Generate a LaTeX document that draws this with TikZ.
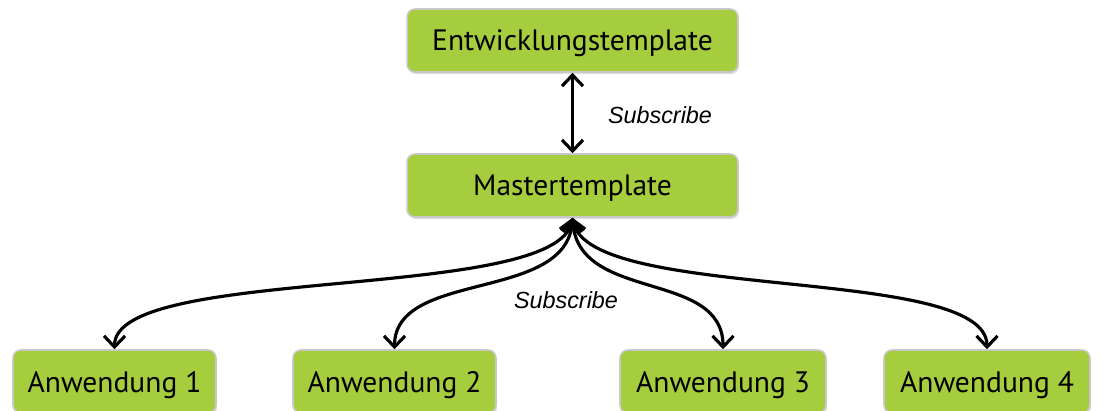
\documentclass[tikz,border=0pt]{standalone}
\usepackage{fontspec}
\setmainfont{PT Sans}
\newfontfamily\labelfont{Liberation Sans}
\usetikzlibrary{arrows.meta,shadows}
\definecolor{boxgreen}{RGB}{165,205,62}
\definecolor{boxedge}{RGB}{200,200,200}

\begin{document}
\begin{tikzpicture}[x=0.02cm, y=-0.02cm,
  tmpl/.style={draw=boxedge, line width=0.9pt, fill=boxgreen,
       rounded corners=0.16cm, inner sep=0cm, text depth=0pt,
       minimum height=1.26cm, font=\fontsize{16.8}{19}\selectfont,
       drop shadow={shadow xshift=0.6pt, shadow yshift=-1.2pt, opacity=0.25}},
  link/.style={line width=1.8pt,
       {Straight Barb[length=2.2mm,width=4.2mm,line width=1.8pt]}-{Straight Barb[length=2.2mm,width=4.2mm,line width=1.8pt]}},
  sublabel/.style={font=\labelfont\itshape\fontsize{13.3}{15}\selectfont}]

\clip (0,0) rectangle (1114,410);

% templates
\draw (572.5, 40.5) node[tmpl, minimum width=6.62cm] (entw) {Entwicklungstemplate};
\draw (572.5,185.5) node[tmpl, minimum width=6.62cm] (master) {Mastertemplate};

% applications
\draw (114.5,381.5) node[tmpl, minimum width=4.06cm] (app1) {Anwendung 1};
\draw (394.5,381.5) node[tmpl, minimum width=4.06cm] (app2) {Anwendung 2};
\draw (723.0,381.5) node[tmpl, minimum width=4.12cm] (app3) {Anwendung 3};
\draw (987.0,381.5) node[tmpl, minimum width=4.12cm] (app4) {Anwendung 4};

% subscribe links
\draw[link] (entw.south) -- (master.north);
\draw[link] (master.south) .. controls +(-15,85) and +(0,-85) .. (app1.north);
\draw[link] (master.south) .. controls +(-5,85) and +(0,-80) .. (app2.north);
\draw[link] (master.south) .. controls +(5,85) and +(0,-80) .. (app3.north);
\draw[link] (master.south) .. controls +(15,85) and +(0,-85) .. (app4.north);

\draw (660,115) node[sublabel] (sub1) {Subscribe};
\draw (566,300) node[sublabel] (sub2) {Subscribe};
\end{tikzpicture}
\end{document}
